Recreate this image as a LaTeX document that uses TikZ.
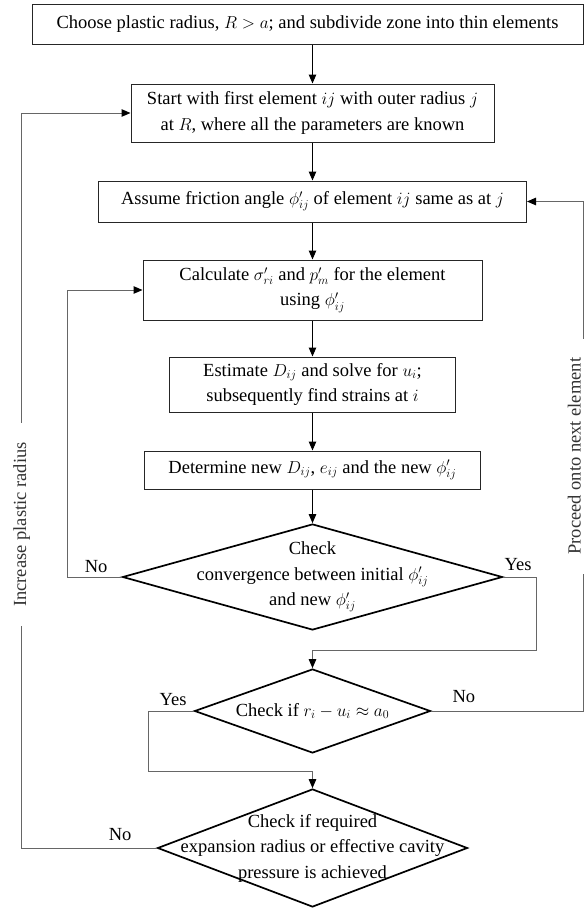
\documentclass[tikz,border=0pt]{standalone}
\usepackage{fontspec}
\setmainfont{Liberation Serif}
\usetikzlibrary{arrows.meta,positioning,shapes.geometric}

\begin{document}
\begin{tikzpicture}[
x=1pt,y=-1pt,
font=\fontsize{18.5}{25.5}\selectfont,
procbox/.style={draw=black!85,line width=1pt,align=center,inner sep=0pt},
decision/.style={diamond,draw=black,line width=1.7pt,inner sep=0pt},
dtext/.style={align=center,inner sep=0pt},
yn/.style={inner sep=0pt},
arr/.style={-{Triangle[length=9pt,width=7.5pt]},line width=1pt},
loopline/.style={draw=black!60,line width=1pt,
-{Triangle[length=9pt,width=7.5pt,color=black]}},
sidelbl/.style={fill=white,rotate=90,inner xsep=19pt,inner ysep=3pt,
text=black!80}
]
\useasboundingbox (0,0) rectangle (584,911);
% process boxes
\node[procbox,minimum width=551,minimum height=40] (choose) at (307.5,24)
{Choose plastic radius, $R>a$; and subdivide zone into thin elements};
\node[procbox,minimum width=363,minimum height=58] (start) at (312.5,113)
{Start with first element $ij$ with outer radius $j$\\
at $R$, where all the parameters are known};
\node[procbox,minimum width=428,minimum height=41] (assume) at (312.5,201.5)
{Assume friction angle $\phi'_{ij}$ of element $ij$ same as at $j$};
\node[procbox,minimum width=339,minimum height=60] (calc) at (312.5,290)
{Calculate $\sigma'_{ri}$ and $p'_m$ for the element\\using $\phi'_{ij}$};
\node[procbox,minimum width=286,minimum height=55] (estim) at (312.5,384.5)
{Estimate $D_{ij}$ and solve for $u_i$;\\subsequently find strains at $i$};
\node[procbox,minimum width=336,minimum height=38] (determ) at (312.5,470)
{Determine new $D_{ij}$, $e_{ij}$ and the new $\phi'_{ij}$};
% decisions
\node[decision,minimum width=380,minimum height=106] (conv) at (312.5,577) {};
\node[dtext] (convtxt) at (conv)
{Check\\convergence between initial $\phi'_{ij}$\\and new $\phi'_{ij}$};
\node[decision,minimum width=236,minimum height=84] (rchk) at (312.5,711) {};
\node[dtext] (rchktxt) at (rchk) {Check if $r_i-u_i\approx a_0$};
\node[decision,minimum width=310,minimum height=118] (final) at (312.5,848) {};
\node[dtext] (finaltxt) at (final)
{Check if required\\expansion radius or effective cavity\\pressure is achieved};
% main flow
\foreach \a/\b in {choose/start,start/assume,assume/calc,calc/estim,
estim/determ,determ/conv}
\draw[arr] (\a.south -| \b.north) -- (\b.north);
% branches
\draw[loopline] (conv.west) -- ++(-54,0) |- (calc.west);
\node[yn,above left=4pt and 14pt of conv.west] (convno) {No};
\draw[loopline] (conv.east) -- ++(33,0) |- (312.5,650) -- (rchk.north);
\node[yn,above right=6pt and 1pt of conv.east] (convyes) {Yes};
\draw[loopline] (rchk.west) -- ++(-45,0) |- (312.5,771) -- (final.north);
\node[yn,above left=5pt and 7pt of rchk.west] (rchkyes) {Yes};
\draw[loopline] (rchk.east) -- ++(152,0)
|- node[xshift=-9pt,sidelbl,pos=0.25] (nextel) {Proceed onto next element}
(assume.east);
\node[yn,above right=8pt and 21pt of rchk.east] (rchkno) {No};
\draw[loopline] (final.west) -- ++(-135,0)
|- node[sidelbl,pos=0.22] (incr) {Increase plastic radius} (start.west);
\node[yn,above left=7pt and 25pt of final.west] (finalno) {No};
\end{tikzpicture}
\end{document}
